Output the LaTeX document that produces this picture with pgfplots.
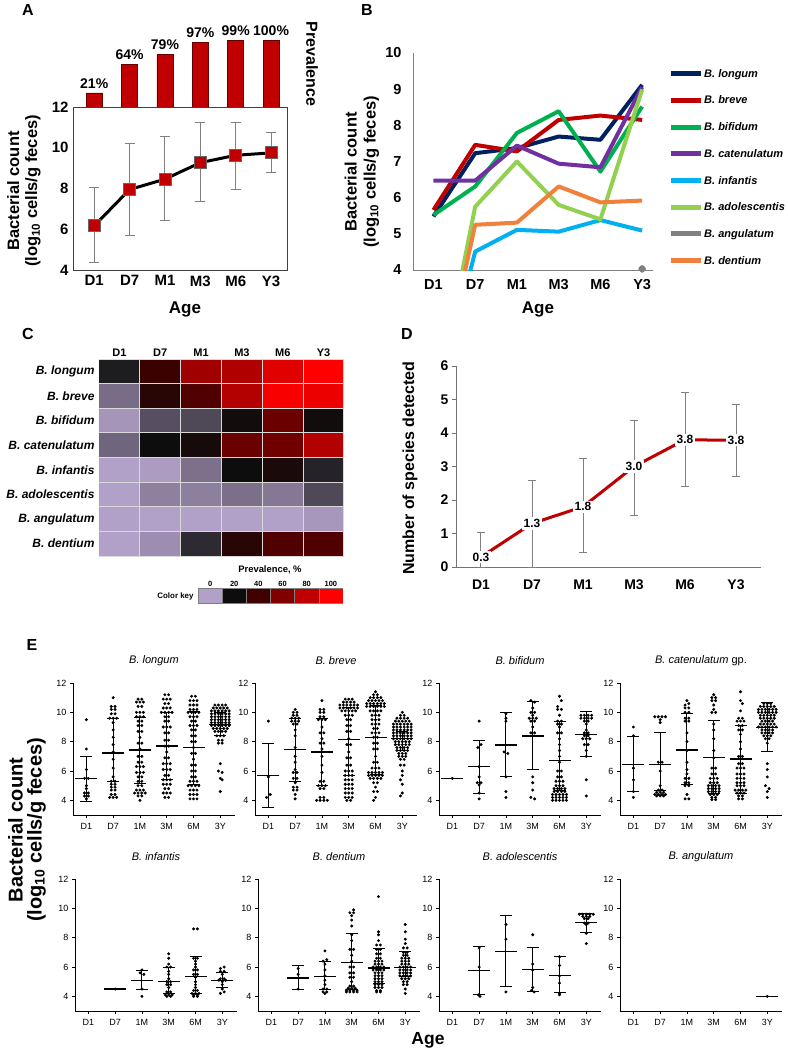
\documentclass[border=0pt]{standalone}
\usepackage{fontspec}
\setmainfont{Liberation Sans}
\usepackage{pgfplots}
\pgfplotsset{compat=1.18}
\newcommand\fs[2]{\fontsize{#1}{#2}\selectfont}
\definecolor{ared}{RGB}{192,0,0}
\definecolor{cLongum}{RGB}{0,32,96}
\definecolor{cBreve}{RGB}{192,0,0}
\definecolor{cBifidum}{RGB}{0,176,80}
\definecolor{cCaten}{RGB}{112,48,160}
\definecolor{cInf}{RGB}{0,176,240}
\definecolor{cAdol}{RGB}{146,208,80}
\definecolor{cAng}{RGB}{128,128,128}
\definecolor{cDent}{RGB}{240,128,60}
\definecolor{k0}{RGB}{177,160,199}
\definecolor{k1}{RGB}{13,13,13}
\definecolor{k2}{RGB}{64,0,0}
\definecolor{k3}{RGB}{128,0,0}
\definecolor{k4}{RGB}{192,0,0}
\definecolor{k5}{RGB}{255,0,0}
\pgfplotsset{
 every axis/.append style={/pgf/number format/assume math mode=true, scale only axis},
 Eax/.style={width=162pt, height=132pt, anchor=south west, xmin=-0.5, xmax=5.55, ymin=3, ymax=12,
   axis x line*=bottom, axis y line*=left, axis line style={black, line width=0.9pt},
   ytick={4,6,8,10,12}, xtick={0,...,5}, xticklabels={D1,D7,1M,3M,6M,3Y},
   tick align=outside, major tick length=3pt, tick style={black, line width=0.8pt},
   tick label style={font=\fs{9}{10}}, xticklabel style={yshift=-2pt},
   title style={at={(axis description cs:0.5,1)}, anchor=center, yshift=16pt, font=\itshape\fs{11}{13}},
   clip=false},
 Epts/.style={only marks, mark=*, mark size=1.3pt, black},
 Emed/.style={only marks, mark=-, mark size=11pt, black, mark options={line width=1.3pt},
   error bars/.cd, y dir=both, y explicit, error bar style={line width=1pt, black},
   error mark options={rotate=90, mark size=6pt, line width=1pt, black}},
}
\begin{document}
\begin{tikzpicture}
\path[use as bounding box] (0pt,0pt) rectangle (787pt,-1052pt);
% ---------------- Panel A ----------------
\begin{axis}[width=214pt, height=67pt, at={(73pt,-107pt)}, anchor=south west, xmin=-0.6, xmax=5.45, ymin=0, ymax=100, hide axis, clip=false]
\addplot[ybar, bar width=16pt, bar shift=0pt, fill=ared, draw=black!60!red, line width=0.6pt, nodes near coords, point meta=explicit symbolic, nodes near coords style={font=\bfseries\fs{14}{16}, text=black, anchor=south, yshift=1pt}] coordinates {(0,21)[21\%] (1,64)[64\%] (2,79)[79\%] (3,97)[97\%] (4,99)[99\%] (5,100)[100\%]};
\end{axis}
\begin{axis}[width=214pt, height=163pt, at={(73pt,-270pt)}, anchor=south west, xmin=-0.6, xmax=5.45, ymin=4, ymax=12,
  ytick={4,6,8,10,12}, xtick={0,...,5}, xticklabels={D1,D7,M1,M3,M6,Y3}, major tick length=0pt,
  axis line style={black!75, line width=0.8pt}, tick label style={font=\bfseries\fs{15}{17}},
  yticklabel style={xshift=-1pt}, xticklabel style={yshift=-2pt}, clip=false]
\addplot[only marks, mark=none, error bars/.cd, y dir=both, y explicit, error bar style={gray, line width=1pt}, error mark options={rotate=90, gray, mark size=5pt, line width=1pt}] coordinates {(0,6.17) += (0,1.86) -= (0,1.79) (1,7.95) += (0,2.25) -= (0,2.27) (2,8.46) += (0,2.1) -= (0,2.04) (3,9.27) += (0,1.96) -= (0,1.89) (4,9.63) += (0,1.62) -= (0,1.66) (5,9.75) += (0,0.98) -= (0,0.98)};
\addplot[black, line width=3pt, mark=square*, mark size=6pt, mark options={fill=ared, draw=black!60, line width=0.8pt}] coordinates {(0,6.17) (1,7.95) (2,8.46) (3,9.27) (4,9.63) (5,9.75)};
\end{axis}
\node[font=\bfseries\fs{16}{18}] at (28pt,-10pt) {A};
\node[rotate=90, align=center, font=\bfseries\fs{16.5}{18}] at (24pt,-191pt) {Bacterial count\\(log\textsubscript{10} cells/g feces)};
\node[rotate=-90, font=\bfseries\fs{16}{18}] at (312pt,-64pt) {Prevalence};
\node[font=\bfseries\fs{17}{19}] at (185pt,-309pt) {Age};
% ---------------- Panel B ----------------
\begin{axis}[width=240pt, height=217pt, at={(413pt,-270pt)}, anchor=south west, xmin=-0.49, xmax=5.26, ymin=4, ymax=10,
  axis x line*=bottom, axis y line*=left, axis line style={gray, line width=1pt}, major tick length=0pt,
  ytick={4,...,10}, xtick={0,...,5}, xticklabels={D1,D7,M1,M3,M6,Y3},
  tick label style={font=\bfseries\fs{14.5}{16}}, yticklabel style={xshift=-8pt}, xticklabel style={yshift=-6pt},
  legend style={at={(axis description cs:1.0625,0.94)}, anchor=north west, draw=none, fill=none,
    font=\bfseries\itshape\fs{11}{13}, row sep=11.7pt, inner sep=0pt,
    nodes={inner sep=1pt, text height=10pt, text depth=3pt}},
  legend cell align=left,
  legend image code/.code={\draw[#1, mark=none, line width=5pt] (0pt,0pt) -- (30pt,0pt);},
  every axis plot/.append style={line width=4pt, line join=round}]
\addplot[cLongum] coordinates {(0,5.48) (1,7.23) (2,7.37) (3,7.69) (4,7.6) (5,9.12)};
\addlegendentry{B. longum}
\addplot[cBreve] coordinates {(0,5.66) (1,7.46) (2,7.28) (3,8.15) (4,8.27) (5,8.15)};
\addlegendentry{B. breve}
\addplot[cBifidum] coordinates {(0,5.52) (1,6.31) (2,7.79) (3,8.39) (4,6.72) (5,8.52)};
\addlegendentry{B. bifidum}
\addplot[cCaten] coordinates {(0,6.47) (1,6.47) (2,7.44) (3,6.94) (4,6.84) (5,9.06)};
\addlegendentry{B. catenulatum}
\addplot[cInf] coordinates {(0,0) (1,4.51) (2,5.11) (3,5.06) (4,5.38) (5,5.09)};
\addlegendentry{B. infantis}
\addplot[cAdol] coordinates {(0,0) (1,5.75) (2,7.0) (3,5.8) (4,5.4) (5,8.99)};
\addlegendentry{B. adolescentis}
\addplot[cAng, mark=*, mark size=1.8pt] coordinates {(5,4.03)};
\addlegendentry{B. angulatum}
\addplot[cDent] coordinates {(0,0) (1,5.25) (2,5.31) (3,6.31) (4,5.87) (5,5.92)};
\addlegendentry{B. dentium}
\end{axis}
\node[font=\bfseries\fs{16}{18}] at (367pt,-10pt) {B};
\node[rotate=90, align=center, font=\bfseries\fs{16.5}{19}] at (362pt,-172pt) {Bacterial count\\(log\textsubscript{10} cells/g feces)};
\node[font=\bfseries\fs{17}{19}] at (538pt,-309pt) {Age};
% ---------------- Panel C ----------------
\begin{axis}[width=245pt, height=197pt, at={(99pt,-556pt)}, anchor=south west, xmin=-0.5, xmax=5.5, ymin=-0.5, ymax=7.5,
  axis line style={draw=none}, major tick length=0pt, xtick={0,...,5}, xticklabels={D1,D7,M1,M3,M6,Y3}, xticklabel pos=upper,
  ytick={0,...,7}, yticklabels={B. dentium, B. angulatum, B. adolescentis, B. infantis, B. catenulatum, B. bifidum, B. breve, B. longum},
  xticklabel style={font=\bfseries\fs{11}{12}, yshift=-1pt}, yticklabel style={font=\bfseries\itshape\fs{12}{14}, xshift=-1pt},
  colormap={prev}{rgb255=(177,160,199) rgb255=(13,13,13) rgb255=(64,0,0) rgb255=(128,0,0) rgb255=(192,0,0) rgb255=(255,0,0)},
  point meta min=0, point meta max=100]
\addplot[matrix plot*, mesh/cols=6, point meta=explicit, shader=faceted, faceted color=white!85!black, line width=1pt] table[meta=c] {
x y c
0 0 0
1 0 2.4
2 0 16
3 0 31
4 0 45
5 0 45
0 1 0
1 1 0
2 1 0
3 1 0
4 1 0
5 1 1.2
0 2 0
1 2 4.3
2 2 4.4
3 2 6.6
4 2 5.4
5 2 12
0 3 0
1 3 0.5
2 3 6.5
3 3 20
4 3 25
5 3 17
0 4 8
1 4 20
2 4 24
3 4 53
4 4 55
5 4 76
0 5 1.5
1 5 11
2 5 12
3 5 22
4 5 53
5 5 22
0 6 7
1 6 31
2 6 45
3 6 76
4 6 98
5 6 94
0 7 18
1 7 38
2 7 70
3 7 75
4 7 90
5 7 100
};
\end{axis}
\begin{axis}[width=145pt, height=15pt, at={(198pt,-603pt)}, anchor=south west, xmin=-0.5, xmax=5.5, ymin=0, ymax=1,
  axis line style={draw=none}, major tick length=0pt, xtick={0,...,5}, xticklabels={0,20,40,60,80,100}, xticklabel pos=upper,
  ytick=\empty, xticklabel style={font=\bfseries\fs{7.5}{8}, yshift=-2pt}]
\addplot[fill=k0, draw=black!50] coordinates {(-0.5,1) (0.5,1)} \closedcycle;
\addplot[fill=k1, draw=black!50] coordinates {(0.5,1) (1.5,1)} \closedcycle;
\addplot[fill=k2, draw=black!50] coordinates {(1.5,1) (2.5,1)} \closedcycle;
\addplot[fill=k3, draw=black!50] coordinates {(2.5,1) (3.5,1)} \closedcycle;
\addplot[fill=k4, draw=black!50] coordinates {(3.5,1) (4.5,1)} \closedcycle;
\addplot[fill=k5, draw=black!50] coordinates {(4.5,1) (5.5,1)} \closedcycle;
\end{axis}
\node[font=\bfseries\fs{16}{18}] at (28pt,-334pt) {C};
\node[font=\bfseries\fs{9.4}{11}] at (270pt,-570pt) {Prevalence, \%};
\node[anchor=east, font=\bfseries\fs{7.9}{9}] at (197pt,-596pt) {Color key};
% ---------------- Panel D ----------------
\begin{axis}[width=305pt, height=201pt, at={(456pt,-567pt)}, anchor=south west, xmin=-0.49, xmax=5.49, ymin=0, ymax=6,
  axis x line*=bottom, axis y line*=left, axis line style={black!55, line width=1pt},
  xtick={0,...,5}, xticklabels={D1,D7,M1,M3,M6,Y3}, ytick={0,...,6}, tick align=outside, major tick length=4pt,
  x tick style={draw=none}, y tick style={black!55, line width=1pt},
  tick label style={font=\bfseries\fs{14}{16}}, xticklabel style={yshift=-5pt}, clip=false]
\addplot[only marks, mark=none, error bars/.cd, y dir=both, y explicit, error bar style={gray, line width=1pt}, error mark options={rotate=90, gray, mark size=4pt, line width=1pt}] coordinates {(0,0.3) += (0,0.72) -= (0,0.3) (1,1.3) += (0,1.27) -= (0,1.3) (2,1.8) += (0,1.45) -= (0,1.37) (3,3.0) += (0,1.38) -= (0,1.46) (4,3.8) += (0,1.42) -= (0,1.39) (5,3.78) += (0,1.07) -= (0,1.08)};
\addplot[ared, line width=3pt] coordinates {(0,0.3) (1,1.3) (2,1.8) (3,3.0) (4,3.8) (5,3.78)};
\addplot[only marks, mark=none, nodes near coords, point meta=explicit symbolic, nodes near coords style={anchor=center, text=black, fill=white, draw=none, inner sep=1.8pt, font=\bfseries\fs{12}{14}}] coordinates {(0,0.3)[0.3] (1,1.3)[1.3] (2,1.8)[1.8] (3,3.0)[3.0] (4,3.8)[3.8] (5,3.78)[3.8]};
\end{axis}
\node[font=\bfseries\fs{16}{18}] at (407pt,-334pt) {D};
\node[rotate=90, font=\bfseries\fs{16}{18}] at (410pt,-468pt) {Number of species detected};
% ---------------- Panel E ----------------
\node[font=\bfseries\fs{16}{18}] at (32pt,-645pt) {E};
\node[rotate=90, align=center, font=\bfseries\fs{20}{19}] at (27pt,-830pt) {Bacterial count\\(log\textsubscript{10} cells/g feces)};
\node[font=\bfseries\fs{17.5}{19}] at (428pt,-1040pt) {Age};
% B. longum
\begin{axis}[Eax, at={(73pt,-815pt)}, title={B. longum}]
\addplot[Epts] coordinates {(0,9.5)(0,7.5)(0,6.1)(-.07,5.5)(.07,5.5)(0,5)(0,4.8)(-.07,4.5)(.07,4.5)(-.07,4.3)(.07,4.3)(0,4.1)
(1,11)(.93,10.4)(1.07,10.4)(.93,10.2)(1.07,10.2)(.93,9.9)(1.07,9.9)(.87,9.6)(1,9.6)(1.13,9.6)(1,9.3)(1,8.8)(1,8.3)(1,7.8)(1,7.3)(1,6.8)(1,6.2)(1,5.6)(.93,5.3)(1.07,5.3)(.93,5.1)(1.07,5.1)(.93,4.9)(1.07,4.9)(.93,4.7)(1.07,4.7)(.93,4.4)(1.07,4.4)(.87,4.2)(1,4.2)(1.13,4.2)
(1.93,10.9)(2.07,10.9)(1.87,10.7)(2,10.7)(2.13,10.7)(1.93,10.4)(2.07,10.4)(1.87,10)(2,10)(2.13,10)(1.87,9.7)(2,9.7)(2.13,9.7)(1.93,9.4)(2.07,9.4)(1.93,9.1)(2.07,9.1)(1.93,8.7)(2.07,8.7)(2,8.3)(1.93,7.9)(2.07,7.9)(2,7.5)(1.93,7)(2.07,7)(1.93,6.6)(2.07,6.6)(1.87,6.3)(2,6.3)(2.13,6.3)(1.87,5.9)(2,5.9)(2.13,5.9)(1.93,5.6)(2.07,5.6)(1.93,5.3)(2.07,5.3)(1.93,5)(2.07,5)(1.87,4.7)(2,4.7)(2.13,4.7)(1.8,4.5)(1.93,4.5)(2.07,4.5)(2.2,4.5)(1.93,4.3)(2.07,4.3)(2,4)
(2.93,11.2)(3.07,11.2)(2.87,10.9)(3,10.9)(3.13,10.9)(2.93,10.6)(3.07,10.6)(2.87,10.3)(3,10.3)(3.13,10.3)(2.8,10)(2.93,10)(3.07,10)(3.2,10)(2.93,9.7)(3.07,9.7)(2.93,9.4)(3.07,9.4)(2.87,9)(3,9)(3.13,9)(2.93,8.6)(3.07,8.6)(2.93,8.1)(3.07,8.1)(2.93,7.7)(3.07,7.7)(3,7.3)(2.93,6.9)(3.07,6.9)(2.87,6.5)(3,6.5)(3.13,6.5)(2.87,6.1)(3,6.1)(3.13,6.1)(2.93,5.7)(3.07,5.7)(2.87,5.4)(3,5.4)(3.13,5.4)(2.87,5.1)(3,5.1)(3.13,5.1)(2.93,4.8)(3.07,4.8)(2.87,4.5)(3,4.5)(3.13,4.5)(2.93,4.2)(3.07,4.2)
(3.93,11.1)(4.07,11.1)(3.87,10.8)(4,10.8)(4.13,10.8)(3.87,10.5)(4,10.5)(4.13,10.5)(3.87,10.2)(4,10.2)(4.13,10.2)(3.8,10)(3.93,10)(4.07,10)(4.2,10)(3.87,9.7)(4,9.7)(4.13,9.7)(3.93,9.4)(4.07,9.4)(3.87,9.1)(4,9.1)(4.13,9.1)(3.93,8.8)(4.07,8.8)(3.93,8.4)(4.07,8.4)(3.93,8)(4.07,8)(4,7.6)(3.93,7.2)(4.07,7.2)(4,6.8)(3.93,6.4)(4.07,6.4)(3.93,6)(4.07,6)(3.93,5.6)(4.07,5.6)(3.87,5.3)(4,5.3)(4.13,5.3)(3.8,5)(3.93,5)(4.07,5)(4.2,5)(3.87,4.7)(4,4.7)(4.13,4.7)(3.87,4.4)(4,4.4)(4.13,4.4)(3.87,4.1)(4,4.1)(4.13,4.1)
(4.8,10.5)(4.93,10.5)(5.07,10.5)(5.2,10.5)(4.74,10.3)(4.87,10.3)(5,10.3)(5.13,10.3)(5.26,10.3)
(4.67,10.1)(4.8,10.1)(4.93,10.1)(5.07,10.1)(5.2,10.1)(5.33,10.1)(4.67,9.9)(4.8,9.9)(4.93,9.9)(5.07,9.9)(5.2,9.9)(5.33,9.9)
(4.67,9.7)(4.8,9.7)(4.93,9.7)(5.07,9.7)(5.2,9.7)(5.33,9.7)(4.67,9.5)(4.8,9.5)(4.93,9.5)(5.07,9.5)(5.2,9.5)(5.33,9.5)
(4.67,9.3)(4.8,9.3)(4.93,9.3)(5.07,9.3)(5.2,9.3)(5.33,9.3)(4.67,9.1)(4.8,9.1)(4.93,9.1)(5.07,9.1)(5.2,9.1)(5.33,9.1)
(4.74,8.9)(4.87,8.9)(5,8.9)(5.13,8.9)(5.26,8.9)(4.8,8.7)(4.93,8.7)(5.07,8.7)(5.2,8.7)(4.87,8.4)(5,8.4)(5.13,8.4)
(4.93,8.1)(5.07,8.1)(4.93,7.9)(5.07,7.9)(5,6.5)(4.93,6)(5.07,5.9)(5,5.5)(5.07,5.4)(5,4.6)};
\addplot[Emed] coordinates {(0,5.47) += (0,1.52) -= (0,1.52) (1,7.22) += (0,2.39) -= (0,1.91) (2,7.43) += (0,2.2) -= (0,2.28) (3,7.7) += (0,2.3) -= (0,2.26) (4,7.61) += (0,2.44) -= (0,2.51) (5,9.17) += (0,0.8) -= (0,0.77)};
\end{axis}
% B. breve
\begin{axis}[Eax, at={(255pt,-815pt)}, title={B. breve}]
\addplot[Epts] coordinates {(0,9.4)(0,5.6)(.07,4.4)(-.07,4.2)
(1,10.2)(.93,10)(1.07,10)(.93,9.8)(1.07,9.8)(.87,9.6)(1,9.6)(1.13,9.6)(.87,9.4)(1,9.4)(1.13,9.4)(.93,9.2)(1.07,9.2)(1,8.8)(1,8.4)(1,7.6)(1,7)(1,6.6)(1,6.1)(.93,5.9)(1.07,5.9)(.93,5.5)(1.07,5.5)(1,5.2)(.93,4.9)(1.07,4.9)(.93,4.7)(1.07,4.7)(1,4.4)(1,4.1)
(2,10.8)(1.93,10.2)(2.07,10.2)(1.93,10)(2.07,10)(1.93,9.7)(2.07,9.7)(1.87,9.5)(2,9.5)(2.13,9.5)(2,9)(1.93,8.6)(2.07,8.6)(2,8.2)(1.93,7.9)(2.07,7.9)(2,7.5)(2,7)(2,6.4)(2,5.9)(1.93,5.3)(2.07,5.3)(1.87,5)(2,5)(2.13,5)(1.93,4.8)(2.07,4.8)(1.93,4.2)(2.07,4.2)(1.8,4)(1.93,4)(2.07,4)(2.2,4)
(2.87,10.9)(3,10.9)(3.13,10.9)(2.8,10.7)(2.93,10.7)(3.07,10.7)(3.2,10.7)(2.67,10.5)(2.8,10.5)(2.93,10.5)(3.07,10.5)(3.2,10.5)(3.33,10.5)(2.67,10.3)(2.8,10.3)(2.93,10.3)(3.07,10.3)(3.2,10.3)(3.33,10.3)(2.74,10.1)(2.87,10.1)(3,10.1)(3.13,10.1)(3.26,10.1)(2.87,9.8)(3,9.8)(3.13,9.8)(2.93,9.5)(3.07,9.5)(2.93,9.1)(3.07,9.1)(2.93,8.7)(3.07,8.7)(3,8.2)(2.93,7.8)(3.07,7.8)(3,7.3)(2.93,6.9)(3.07,6.9)(2.93,6.4)(3.07,6.4)(2.87,6)(3,6)(3.13,6)(2.87,5.7)(3,5.7)(3.13,5.7)(2.87,5.4)(3,5.4)(3.13,5.4)(2.87,5.1)(3,5.1)(3.13,5.1)(2.87,4.8)(3,4.8)(3.13,4.8)(2.87,4.5)(3,4.5)(3.13,4.5)(2.87,4.2)(3,4.2)(3.13,4.2)(2.93,4)(3.07,4)
(4,11.4)(3.93,11.2)(4.07,11.2)(3.8,11)(3.93,11)(4.07,11)(4.2,11)(3.74,10.8)(3.87,10.8)(4,10.8)(4.13,10.8)(4.26,10.8)(3.67,10.6)(3.8,10.6)(3.93,10.6)(4.07,10.6)(4.2,10.6)(4.33,10.6)(3.67,10.4)(3.8,10.4)(3.93,10.4)(4.07,10.4)(4.2,10.4)(4.33,10.4)(3.8,10.1)(3.93,10.1)(4.07,10.1)(4.2,10.1)(3.87,9.8)(4,9.8)(4.13,9.8)(3.87,9.5)(4,9.5)(4.13,9.5)(3.87,9.2)(4,9.2)(4.13,9.2)(3.93,8.9)(4.07,8.9)(3.87,8.6)(4,8.6)(4.13,8.6)(3.93,8.3)(4.07,8.3)(3.93,7.9)(4.07,7.9)(3.93,7.5)(4.07,7.5)(4,7)(3.93,6.6)(4.07,6.6)(3.87,6.2)(4,6.2)(4.13,6.2)(3.74,5.9)(3.87,5.9)(4,5.9)(4.13,5.9)(4.26,5.9)(3.74,5.7)(3.87,5.7)(4,5.7)(4.13,5.7)(4.26,5.7)(3.8,5.5)(3.93,5.5)(4.07,5.5)(4.2,5.5)(3.93,5.2)(4.07,5.2)(4,4.9)(3.93,4.6)(4.07,4.6)(4,4.2)(3.93,4)
(5,10)(4.93,9.8)(5.07,9.8)(4.8,9.6)(4.93,9.6)(5.07,9.6)(5.2,9.6)(4.74,9.4)(4.87,9.4)(5,9.4)(5.13,9.4)(5.26,9.4)
(4.67,9.2)(4.8,9.2)(4.93,9.2)(5.07,9.2)(5.2,9.2)(5.33,9.2)(4.67,9)(4.8,9)(4.93,9)(5.07,9)(5.2,9)(5.33,9)
(4.67,8.8)(4.8,8.8)(4.93,8.8)(5.07,8.8)(5.2,8.8)(5.33,8.8)(4.67,8.6)(4.8,8.6)(4.93,8.6)(5.07,8.6)(5.2,8.6)(5.33,8.6)
(4.67,8.4)(4.8,8.4)(4.93,8.4)(5.07,8.4)(5.2,8.4)(5.33,8.4)(4.67,8.2)(4.8,8.2)(4.93,8.2)(5.07,8.2)(5.2,8.2)(5.33,8.2)
(4.74,8)(4.87,8)(5,8)(5.13,8)(5.26,8)(4.74,7.8)(4.87,7.8)(5,7.8)(5.13,7.8)(5.26,7.8)
(4.8,7.6)(4.93,7.6)(5.07,7.6)(5.2,7.6)(4.8,7.4)(4.93,7.4)(5.07,7.4)(5.2,7.4)(4.87,7.2)(5,7.2)(5.13,7.2)(4.87,7)(5,7)(5.13,7)
(4.93,6.8)(5.07,6.8)(4.93,6.4)(5.07,6.4)(5,6)(5,5.7)(4.93,5.4)(5,5.1)(5,4.5)(4.93,4.3)};
\addplot[Emed] coordinates {(0,5.71) += (0,2.18) -= (0,2.17) (1,7.48) += (0,2.12) -= (0,2.18) (2,7.3) += (0,2.3) -= (0,2.27) (3,8.16) += (0,2.14) -= (0,2.45) (4,8.28) += (0,2.22) -= (0,2.53) (5,8.2) += (0,0.5) -= (0,0.8)};
\end{axis}
% B. bifidum
\begin{axis}[Eax, at={(439pt,-815pt)}, title={B. bifidum}]
\addplot[Epts] coordinates {(0,5.5)
(1,9.4)(1.07,7.8)(.95,7.6)(1,6.3)(1,5.6)(.93,5.2)(1.07,5.2)(1,5.05)(1,4.5)(1,4.1)
(2,9.9)(2,9.6)(2,9.4)(1.93,7.3)(2.07,7.2)(2,5.6)(2,4.6)(2,4.2)
(2.93,10.8)(3.07,10.7)(3,10.3)(2.93,10)(3.07,10)(3,9.8)(2.87,9.6)(3,9.6)(3.13,9.6)(2.93,9.4)(3.07,9.4)(3,9)(2.93,8.6)(3.07,8.6)(3,8.4)(3,5.6)(3,5.2)(3,4.7)(2.93,4.2)(3.07,4.1)
(4,11.1)(4.07,10.8)(3.93,10.4)(3.93,10.2)(4.07,10.2)(4,9.8)(3.93,9.4)(4.07,9.4)(3.93,9.2)(4.07,9.2)(4,9)(3.93,8.6)(4.07,8.6)(4,8.2)(4,7.8)(4,7.4)(4,7)(4,6.6)(3.93,6)(4.07,6)(3.93,5.6)(4.07,5.6)(3.87,5.3)(4,5.3)(4.13,5.3)(3.87,5)(4,5)(4.13,5)(3.8,4.8)(3.93,4.8)(4.07,4.8)(4.2,4.8)(3.8,4.6)(3.93,4.6)(4.07,4.6)(4.2,4.6)(3.74,4.4)(3.87,4.4)(4,4.4)(4.13,4.4)(4.26,4.4)(3.74,4.2)(3.87,4.2)(4,4.2)(4.13,4.2)(4.26,4.2)(3.74,4)(3.87,4)(4,4)(4.13,4)(4.26,4)
(4.8,9.8)(4.93,9.8)(5.07,9.8)(5.2,9.8)(4.8,9.6)(4.93,9.6)(5.07,9.6)(5.2,9.6)(4.93,9.4)(5.07,9.4)(5,9.2)(5,8.8)(4.93,8.6)(5.07,8.6)(4.93,8.4)(5.07,8.4)(4.87,8.2)(5,8.2)(5.13,8.2)(4.93,7.8)(5.07,7.8)(5,7.4)(5,7)(5,5.4)(5,4.3)};
\addplot[Emed] coordinates {(0,5.49) += (0,0) -= (0,0) (1,6.29) += (0,1.82) -= (0,1.79) (2,7.77) += (0,2.22) -= (0,2.17) (3,8.39) += (0,2.35) -= (0,2.27) (4,6.7) += (0,2.67) -= (0,2.01) (5,8.5) += (0,1.56) -= (0,1.53)};
\end{axis}
% B. catenulatum
\begin{axis}[Eax, at={(620pt,-815pt)}, title={\textit{B. catenulatum}\/\upshape\ gp.}]
\addplot[Epts] coordinates {(0,9)(0,8.4)(0,6.2)(0,5.4)(0,4.6)(0,4.2)
(.8,9.7)(.93,9.7)(1.07,9.7)(1.2,9.7)(1,9.5)(1,9.3)(.93,6.6)(1.07,6.6)(1,6)(1,5)(.93,4.7)(1.07,4.7)(.87,4.55)(1,4.55)(1.13,4.55)(.8,4.4)(.93,4.4)(1.07,4.4)(1.2,4.4)(.87,4.3)(1,4.3)(1.13,4.3)
(2,10.8)(2.07,10.6)(1.93,10.5)(1.93,10.3)(2.07,10.3)(1.93,10)(2.07,10)(1.93,9.6)(2.07,9.6)(1.93,9.4)(2.07,9.4)(2,8.6)(2,8)(2,7.4)(2,6.6)(2,6.1)(2,5.8)(1.93,5.5)(2.07,5.5)(1.93,5.2)(2.07,5.2)(1.93,5)(2.07,5)(2,4.4)(1.93,4.1)(2.07,4.1)
(3,11.2)(2.93,11)(3.07,11)(2.93,10.8)(3.07,10.8)(3,10.5)(3,10.2)(2.93,10)(3.07,10)(3,9.2)(3,8.8)(3,8.2)(3,7.4)(3,6.9)(2.93,6.2)(3.07,6.2)(2.93,5.8)(3.07,5.8)(2.87,5.5)(3,5.5)(3.13,5.5)(2.87,5.2)(3,5.2)(3.13,5.2)(2.8,5)(2.93,5)(3.07,5)(3.2,5)(2.8,4.8)(2.93,4.8)(3.07,4.8)(3.2,4.8)(2.8,4.6)(2.93,4.6)(3.07,4.6)(3.2,4.6)(2.87,4.4)(3,4.4)(3.13,4.4)(2.93,4.2)(3.07,4.2)(2.93,4.05)(3.07,4.05)
(4,11.4)(4,10.8)(4.07,10.6)(4,10.1)(3.93,9.6)(4.07,9.6)(3.87,9.4)(4,9.4)(4.13,9.4)(3.93,9.1)(4.07,9.1)(3.93,8.8)(4.07,8.8)(4,8.5)(4,8)(4,7.5)(3.93,7)(4.07,7)(3.93,6.5)(4.07,6.5)(3.87,6.2)(4,6.2)(4.13,6.2)(3.87,5.8)(4,5.8)(4.13,5.8)(3.87,5.5)(4,5.5)(4.13,5.5)(3.87,5.2)(4,5.2)(4.13,5.2)(3.87,5)(4,5)(4.13,5)(3.8,4.7)(3.93,4.7)(4.07,4.7)(4.2,4.7)(3.87,4.5)(4,4.5)(4.13,4.5)(3.93,4.3)(4.07,4.3)(3.93,4.1)(4.07,4.1)
(4.87,10.6)(5,10.6)(5.13,10.6)(4.74,10.4)(4.87,10.4)(5,10.4)(5.13,10.4)(5.26,10.4)
(4.67,10.2)(4.8,10.2)(4.93,10.2)(5.07,10.2)(5.2,10.2)(5.33,10.2)(4.67,10)(4.8,10)(4.93,10)(5.07,10)(5.2,10)(5.33,10)
(4.74,9.8)(4.87,9.8)(5,9.8)(5.13,9.8)(5.26,9.8)(4.74,9.6)(4.87,9.6)(5,9.6)(5.13,9.6)(5.26,9.6)
(4.8,9.4)(4.93,9.4)(5.07,9.4)(5.2,9.4)(4.74,9.2)(4.87,9.2)(5,9.2)(5.13,9.2)(5.26,9.2)
(4.67,9)(4.8,9)(4.93,9)(5.07,9)(5.2,9)(5.33,9)(4.8,8.8)(4.93,8.8)(5.07,8.8)(5.2,8.8)(4.8,8.6)(4.93,8.6)(5.07,8.6)(5.2,8.6)
(4.87,8.4)(5,8.4)(5.13,8.4)(4.93,8.2)(5.07,8.2)(5,7.9)(5,6.5)(5,6.1)(5,5.6)(4.93,5)(5.07,4.8)(5,4.6)(5,4.2)};
\addplot[Emed] coordinates {(0,6.45) += (0,1.89) -= (0,1.88) (1,6.45) += (0,2.19) -= (0,1.81) (2,7.43) += (0,2.47) -= (0,2.36) (3,6.93) += (0,2.49) -= (0,2.43) (4,6.81) += (0,2.26) -= (0,2.35) (5,8.98) += (0,1.72) -= (0,1.62)};
\end{axis}
% B. infantis
\begin{axis}[Eax, at={(75pt,-1011pt)}, title={B. infantis}]
\addplot[Epts] coordinates {(1,4.5)
(2,5.8)(1.93,5.6)(2.07,5.5)(2,4.5)(2,4)
(3,6.9)(3,6.6)(3,6.2)(2.93,6)(3.07,6)(3,5.7)(3,5.5)(3,5.2)(2.93,5)(3.07,5)(2.93,4.8)(3.07,4.8)(3,4.6)(2.93,4.3)(3.07,4.3)(2.87,4.1)(3,4.1)(3.13,4.1)(2.93,4)(3.07,4)
(3.93,8.6)(4.07,8.6)(3.93,6.6)(4.07,6.6)(4,6.4)(4,6.2)(4,6)(3.93,5.8)(4.07,5.8)(3.93,5.5)(4.07,5.5)(4,5.3)(4,5)(4,4.8)(4,4.6)(3.93,4.4)(4.07,4.4)(3.87,4.2)(4,4.2)(4.13,4.2)(3.93,4.1)(4.07,4.1)(3.93,4)(4.07,4)
(5.07,6)(4.93,5.9)(4.93,5.7)(5.07,5.7)(5,5.5)(4.93,5.2)(5.07,5.2)(4.87,5.1)(5.13,5.1)(5,5)(5,4.8)(5,4.5)(5.07,4.3)(4.93,4.2)};
\addplot[Emed] coordinates {(1,4.5) += (0,0) -= (0,0) (2,5.1) += (0,0.68) -= (0,0.64) (3,5.03) += (0,0.97) -= (0,0.83) (4,5.37) += (0,1.33) -= (0,1.19) (5,5.1) += (0,0.55) -= (0,0.5)};
\end{axis}
% B. dentium
\begin{axis}[Eax, at={(258pt,-1011pt)}, title={B. dentium}]
\addplot[Epts] coordinates {(1,5.9)(1,5.5)(1,4.5)
(2,7.1)(2.07,6.5)(1.93,6.4)(2,6.2)(2,5.8)(2,5.4)(2,5.1)(2,4.8)(1.93,4.5)(2.07,4.5)(1.93,4.3)(2.07,4.3)(2,4.2)
(3.07,9.9)(2.93,9.7)(3.07,9.7)(3,9.5)(3,9.2)(3,8.8)(3,8.2)(3,7.8)(2.93,7.2)(3.07,7.2)(3,6.8)(3,6.4)(2.93,6)(3.07,6)(2.93,5.6)(3.07,5.6)(2.93,5.3)(3.07,5.3)(3,5)(2.93,4.7)(3.07,4.7)(2.87,4.55)(3,4.55)(3.13,4.55)(2.8,4.42)(2.93,4.42)(3.07,4.42)(3.2,4.42)(2.8,4.3)(2.93,4.3)(3.07,4.3)(3.2,4.3)
(4,10.8)(4,8.4)(4,8.2)(4,7.8)(3.93,7.5)(4.07,7.5)(3.93,7.2)(4.07,7.2)(3.93,6.9)(4.07,6.9)(3.93,6.6)(4.07,6.6)(3.87,6.4)(4,6.4)(4.13,6.4)(3.87,6.2)(4,6.2)(4.13,6.2)(3.8,6)(3.93,6)(4.07,6)(4.2,6)(3.8,5.8)(3.93,5.8)(4.07,5.8)(4.2,5.8)(3.87,5.6)(4,5.6)(4.13,5.6)(3.87,5.4)(4,5.4)(4.13,5.4)(3.87,5.2)(4,5.2)(4.13,5.2)(3.87,5)(4,5)(4.13,5)(3.87,4.8)(4,4.8)(4.13,4.8)(3.87,4.6)(4,4.6)(4.13,4.6)(3.93,4.4)(4.07,4.4)(3.93,4.3)(4.07,4.3)
(5,8.9)(5,8.4)(5,7.9)(5,7.6)(4.93,7.3)(5.07,7.3)(4.93,7)(5.07,7)(4.93,6.8)(5.07,6.8)(4.87,6.6)(5,6.6)(5.13,6.6)(4.87,6.4)(5,6.4)(5.13,6.4)(4.87,6.2)(5,6.2)(5.13,6.2)(4.8,6)(4.93,6)(5.07,6)(5.2,6)(4.8,5.8)(4.93,5.8)(5.07,5.8)(5.2,5.8)(4.8,5.6)(4.93,5.6)(5.07,5.6)(5.2,5.6)(4.8,5.4)(4.93,5.4)(5.07,5.4)(5.2,5.4)(4.87,5.2)(5,5.2)(5.13,5.2)(4.93,5)(5.07,5)(4.93,4.8)(5.07,4.8)(5,4.5)(5,4.2)};
\addplot[Emed] coordinates {(1,5.26) += (0,0.82) -= (0,0.78) (2,5.33) += (0,1.02) -= (0,0.87) (3,6.33) += (0,1.97) -= (0,1.87) (4,5.94) += (0,1.33) -= (0,1.07) (5,5.97) += (0,1.08) -= (0,0.62)};
\end{axis}
% B. adolescentis
\begin{axis}[Eax, at={(439pt,-1011pt)}, title={B. adolescentis}]
\addplot[Epts] coordinates {(1,7.3)(1,6)(.97,4.1)(1.03,4)
(2,8.9)(2,7.9)(2,4.3)
(3,8.2)(3,6.2)(3,5.8)(3,4.6)(2.95,4.4)(3.05,4.3)
(4,6.7)(4,6.1)(4,5.4)(4,4.9)(4,4.2)(4,4.1)
(4.74,9.6)(4.87,9.6)(5,9.6)(5.13,9.6)(5.26,9.6)(4.87,9.45)(5,9.45)(5.13,9.45)(4.93,9.3)(5.07,9.3)(4.93,9)(5.07,9)(5,8.9)(5,8.3)(5,7.6)};
\addplot[Emed] coordinates {(1,5.78) += (0,1.65) -= (0,1.67) (2,7.04) += (0,2.45) -= (0,2.4) (3,5.83) += (0,1.51) -= (0,1.53) (4,5.44) += (0,1.3) -= (0,1.21) (5,9.03) += (0,0.59) -= (0,0.66)};
\end{axis}
% B. angulatum
\begin{axis}[Eax, at={(620pt,-1011pt)}, title={B. angulatum}]
\addplot[Epts] coordinates {(5,4)};
\addplot[Emed] coordinates {(5,4) += (0,0) -= (0,0)};
\end{axis}
\end{tikzpicture}
\end{document}
